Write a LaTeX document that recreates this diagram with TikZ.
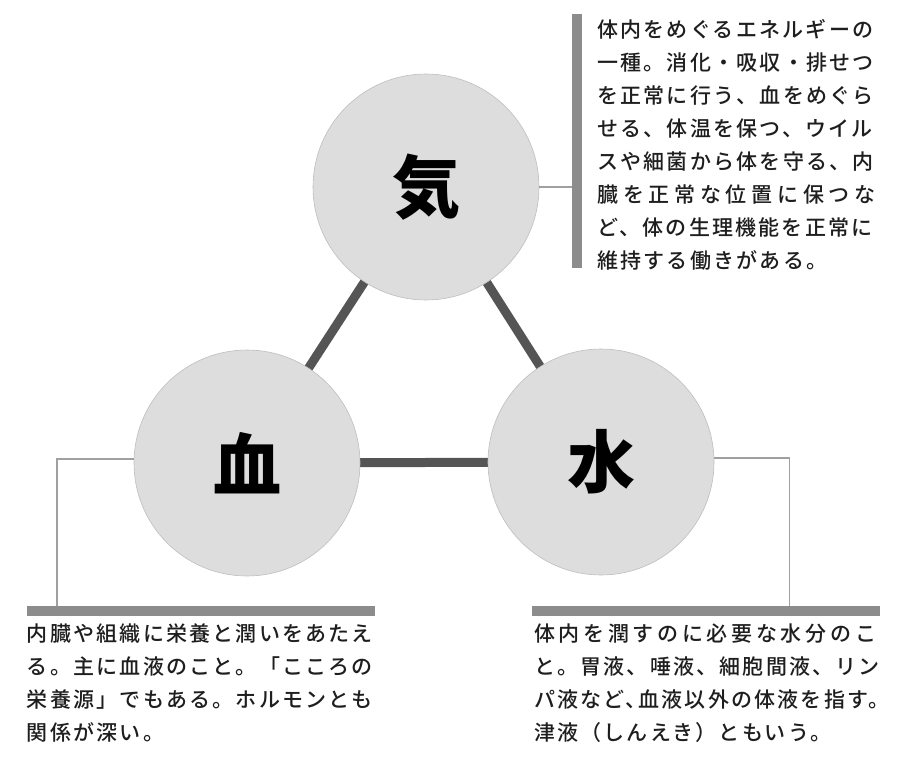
\documentclass[tikz,border=0pt]{standalone}
\usepackage{fontspec}
\usepackage{xcolor}
\usetikzlibrary{positioning, calc, backgrounds}
\newfontfamily\jp[LetterSpace=10.5]{Noto Sans CJK JP Medium}
\newfontfamily\jpbig{Noto Sans CJK JP}
\definecolor{kiFill}{RGB}{221,221,221}
\definecolor{kiLine}{RGB}{190,190,190}
\definecolor{kiLink}{RGB}{85,85,85}
\definecolor{kiBar}{RGB}{140,140,140}
\definecolor{kiLeader}{RGB}{160,160,160}
\definecolor{kiInk}{RGB}{30,30,30}

\begin{document}
\begin{tikzpicture}[x=1pt, y=-1pt,
      element/.style={circle, fill=kiFill, draw=kiLine, line width=0.6pt, minimum size=226pt, inner sep=0pt,
      font=\jpbig\bfseries\fontsize{68}{68}\selectfont, text=black},
      link/.style={line width=9pt, draw=kiLink, shorten <=-8pt, shorten >=-8pt},
      leader/.style={line width=1.4pt, draw=kiLeader},
      bar/.style={fill=kiBar, inner sep=0pt},
      note/.style={inner sep=0pt, align=left, text=kiInk, font=\jp\fontsize{21}{33}\selectfont}
    ]
    \useasboundingbox (0,0) rectangle (900,763);

    \node[element] (ki) at (426,187) {気};
    \node[element] (ketsu) at (247,463) {血};
    \node[element] (sui) at (601,462) {水};

    \begin{scope}[on background layer]
      \draw[link] (ki) -- (ketsu);
      \draw[link] (ki) -- (sui);
      \draw[link] (ketsu) -- (sui);
    \end{scope}

    \node[bar, minimum width=10pt, minimum height=254pt] (kibar) at (577,141) {};
    \node[bar, minimum width=348pt, minimum height=10pt] (ketsubar) at (201,611) {};
    \node[bar, minimum width=348pt, minimum height=10pt] (suibar) at (706,611) {};

    \draw[leader] (ki.east) -- (ki.east -| kibar.west);
    \draw[leader] (ketsu.178) -| ($(ketsubar.north west)+(30,0)$);
    \draw[leader] (sui.2) -| ($(suibar.north east)+(-91,0)$);

    \node[note, below right=5pt and 15pt of kibar.north east] (kinote)
      {体内をめぐるエネルギーの\\一種。消化・吸収・排せつ\\を正常に行う、血をめぐら\\せる、体温を保つ、ウイル\\スや細菌から体を守る、内\\{\addfontfeature{LetterSpace=22.4}臓を正常な位置に保つな}\\ど、体の生理機能を正常に\\維持する働きがある。};
    \node[note, below right=7pt and 0pt of ketsubar.south west] (ketsunote)
      {内臓や組織に栄養と潤いをあたえ\\る。主に血液のこと。「こころの\\栄養源」でもある。ホルモンとも\\関係が深い。};
    \node[note, below right=7pt and 2pt of suibar.south west] (suinote)
      {{\addfontfeature{LetterSpace=17.6}体内を潤すのに必要な水分のこ}\\と。胃液、唾液、細胞間液、リン\\{\addfontfeature{RawFeature=+halt}パ液など、血液以外の体液を指す。}\\津液（しんえき）ともいう。};
  \end{tikzpicture}
\end{document}
